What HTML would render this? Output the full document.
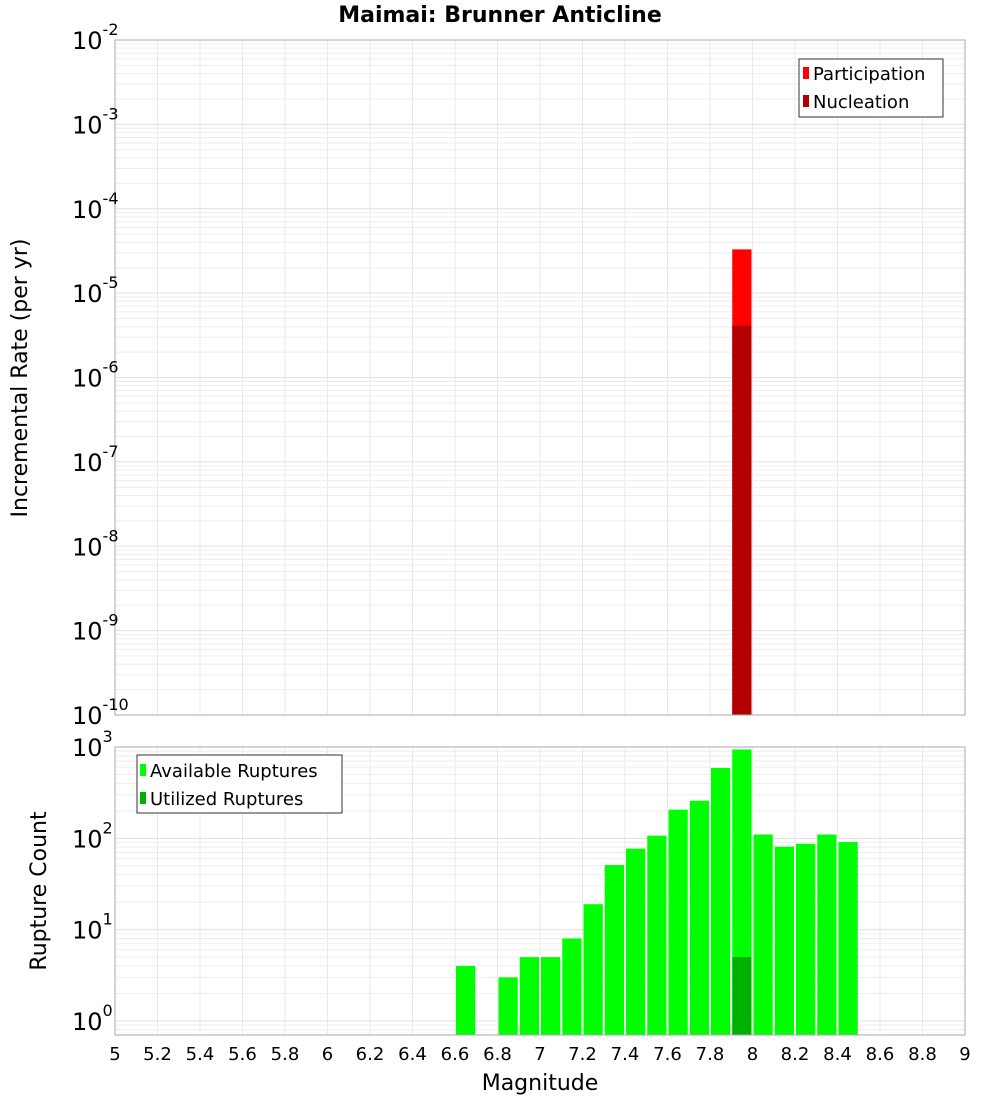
<!DOCTYPE html>
<html><head><meta charset="utf-8"><style>
body{margin:0;background:#fff;}
svg{display:block;font-family:"DejaVu Sans","Liberation Sans",sans-serif;}
</style></head><body>
<svg id="c" width="1000" height="1100" xmlns="http://www.w3.org/2000/svg">
<text x="500" y="22" text-anchor="middle" font-size="22" font-weight="bold">Maimai: Brunner Anticline</text>
<g id="gtop"></g>
<g id="gbot"></g>
<text transform="translate(27,378) rotate(-90)" text-anchor="middle" font-size="22">Incremental Rate (per yr)</text>
<text transform="translate(46,891) rotate(-90)" text-anchor="middle" font-size="22">Rupture Count</text>
<text x="540" y="1090" text-anchor="middle" font-size="22">Magnitude</text>
<g>
<rect x="799" y="59" width="144" height="58" fill="#fff" stroke="#333"/>
<rect x="803" y="67" width="6" height="12" fill="#ff0000"/>
<text x="813" y="80" font-size="18">Participation</text>
<rect x="803" y="95" width="6" height="12" fill="#b20000"/>
<text x="813" y="108" font-size="18">Nucleation</text>
</g>
<g>
<rect x="137" y="755" width="205" height="58" fill="#fff" stroke="#333"/>
<rect x="140" y="764" width="6" height="12" fill="#00ff00"/>
<text x="150" y="777" font-size="18">Available Ruptures</text>
<rect x="140" y="792" width="6" height="12" fill="#00b200"/>
<text x="150" y="805" font-size="18">Utilized Ruptures</text>
</g>
</svg>
<script>
const magBins = [7.95];
const participationRates = [3.3e-5];
const nucleationRates = [4.1e-6];
const countBins = [6.65,6.85,6.95,7.05,7.15,7.25,7.35,7.45,7.55,7.65,7.75,7.85,7.95,8.05,8.15,8.25,8.35,8.45];
const availableCounts = [4,3,5,5,8,19,51,77,107,206,258,590,940,110,81,87,110,91];
const utilizedBins = [7.95];
const utilizedCounts = [5];
const xTicks = [5,5.2,5.4,5.6,5.8,6,6.2,6.4,6.6,6.8,7,7.2,7.4,7.6,7.8,8,8.2,8.4,8.6,8.8,9];
const topExps = [-2,-3,-4,-5,-6,-7,-8,-9,-10];
const botExps = [0,1,2,3];

(function(){
const NS="http://www.w3.org/2000/svg";
const L=115,R=965;
const X=m=>L+(m-5)/4*(R-L);
const TT=40,TB=715,tMax=-2,tMin=-10;
const yT=v=>TT+(tMax-Math.log10(v))/(tMax-tMin)*(TB-TT);
const BT=747,BB=1035,bMax=3.0,bMin=-0.154;
const yB=v=>BT+(bMax-Math.log10(v))/(bMax-bMin)*(BB-BT);
function mk(p,tag,a,txt){const e=document.createElementNS(NS,tag);for(const k in a)e.setAttribute(k,a[k]);if(txt!==undefined)e.textContent=txt;p.appendChild(e);return e;}
const gTop=document.getElementById('gtop'),gBot=document.getElementById('gbot');

function grid(g,yf,t0,b0,lo,hi){
  for(const t of xTicks){const l=mk(g,'line',{x1:X(t),x2:X(t),y1:t0,y2:b0,stroke:'#e8e8e8'});
  
  }
  for(let e=Math.floor(lo);e<=hi;e++)for(let k=1;k<10;k++){const v=k*Math.pow(10,e);const y=yf(v);if(y<t0-0.5||y>b0+0.5)continue;
    const l=mk(g,'line',{x1:L,x2:R,y1:y,y2:y,stroke:k==1?'#e0e0e0':'#ededed'});
    
    }
}
grid(gTop,yT,TT,TB,tMin,tMax);
grid(gBot,yB,BT,BB,-1,bMax);

magBins.forEach((m,i)=>{
  const x0=X(m-0.05)+1,w=X(m+0.05)-X(m-0.05)-2;
  let r=mk(gTop,'rect',{x:x0,y:yT(participationRates[i]),width:w,height:TB-yT(participationRates[i]),fill:'#ff0000'});
  
  
  r=mk(gTop,'rect',{x:x0,y:yT(nucleationRates[i]),width:w,height:TB-yT(nucleationRates[i]),fill:'#b20000'});
  
  
});
countBins.forEach((m,i)=>{
  const x0=X(m-0.05)+1,w=X(m+0.05)-X(m-0.05)-2;
  const r=mk(gBot,'rect',{x:x0,y:yB(availableCounts[i]),width:w,height:BB-yB(availableCounts[i]),fill:'#00ff00'});
  
  
});
utilizedBins.forEach((m,i)=>{
  const x0=X(m-0.05)+1,w=X(m+0.05)-X(m-0.05)-2;
  const r=mk(gBot,'rect',{x:x0,y:yB(utilizedCounts[i]),width:w,height:BB-yB(utilizedCounts[i]),fill:'#00b200'});
  
  
});
let f=mk(gTop,'rect',{x:L,y:TT,width:R-L,height:TB-TT,fill:'none',stroke:'#aaa'});


f=mk(gBot,'rect',{x:L,y:BT,width:R-L,height:BB-BT,fill:'none',stroke:'#aaa'});



function ylab(g,e,y){
  const t=mk(g,'text',{x:72,y:y+9,'font-size':24});
  
  
  mk(t,'tspan',{},'10');
  mk(t,'tspan',{dy:-14,'font-size':16},String(e));
}
topExps.forEach(e=>ylab(gTop,e,yT(Math.pow(10,e))));
botExps.forEach(e=>ylab(gBot,e,yB(Math.pow(10,e))));

xTicks.forEach(t=>{
  const s=Number.isInteger(t)?String(t):t.toFixed(1);
  const e=mk(gBot,'text',{x:X(t),y:1060,'text-anchor':'middle','font-size':18},s);
  
  
});
})();
</script>
</body></html>
